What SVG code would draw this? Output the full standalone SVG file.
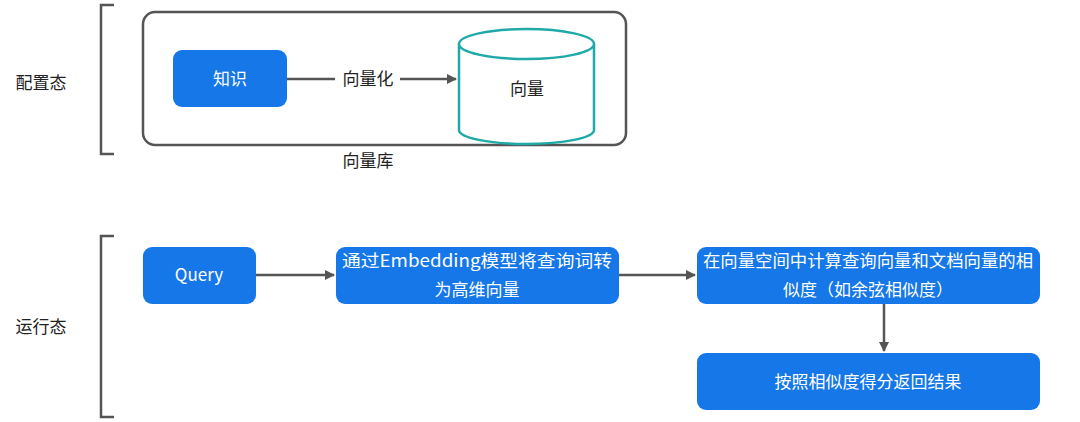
<svg xmlns="http://www.w3.org/2000/svg" width="1080" height="422" viewBox="0 0 1080 422">
<style>
text{font-family:"Noto Sans CJK SC","Liberation Sans",sans-serif;font-size:17px;fill:#222;text-anchor:middle}
.w{fill:#fff}
.b{fill:#1677e8}
.ln{stroke:#555;stroke-width:2.5;fill:none}
</style>
<defs><marker id="a" markerWidth="10" markerHeight="10" refX="9" refY="5" orient="auto" markerUnits="userSpaceOnUse"><path d="M0,0L10,5L0,10z" fill="#555"/></marker></defs>
<g id="brackets">
<path class="ln" d="M114,5H101V154H114"/>
<path class="ln" d="M114,236H101V417H114"/>
<text x="41" y="89">配置态</text>
<text x="41" y="333">运行态</text>
</g>
<g id="store"><rect x="143" y="12" width="483" height="133" rx="12" fill="none" stroke="#555" stroke-width="2.5"/><text x="368" y="167">向量库</text></g>
<g id="knowledge"><rect class="b" x="173" y="50" width="114" height="57" rx="9"/><text class="w" x="230" y="85">知识</text></g>
<g id="vector"><path d="M459,44V130A67.5,14 0 0 0 594,130V44" fill="#fff" stroke="#1faaa8" stroke-width="2.5"/><ellipse cx="526.5" cy="44" rx="67.5" ry="15" fill="#fff" stroke="#1faaa8" stroke-width="2.5"/><text x="527" y="95">向量</text></g>
<g id="query"><rect class="b" x="143" y="247" width="113" height="57" rx="9"/><text class="w" x="199" y="281">Query</text></g>
<g id="embed"><rect class="b" x="336" y="247" width="283" height="57" rx="9"/><text class="w" x="477" y="267" textLength="270" lengthAdjust="spacingAndGlyphs">通过Embedding模型将查询词转</text><text class="w" x="477" y="296">为高维向量</text></g>
<g id="sim"><rect class="b" x="697" y="247" width="343" height="57" rx="9"/><text class="w" x="868" y="267" textLength="330" lengthAdjust="spacingAndGlyphs">在向量空间中计算查询向量和文档向量的相</text><text class="w" x="868" y="296">似度（如余弦相似度）</text></g>
<g id="result"><rect class="b" x="697" y="353" width="343" height="57" rx="9"/><text class="w" x="868" y="388">按照相似度得分返回结果</text></g>
<g id="connectors">
<path class="ln" d="M287,79H335"/><path class="ln" d="M400,79H456" marker-end="url(#a)"/>
<text x="368" y="85">向量化</text>
<path class="ln" d="M256,275H334" marker-end="url(#a)"/>
<path class="ln" d="M619,275H695" marker-end="url(#a)"/>
<path class="ln" d="M884,304V351" marker-end="url(#a)"/>
</g>
</svg>
